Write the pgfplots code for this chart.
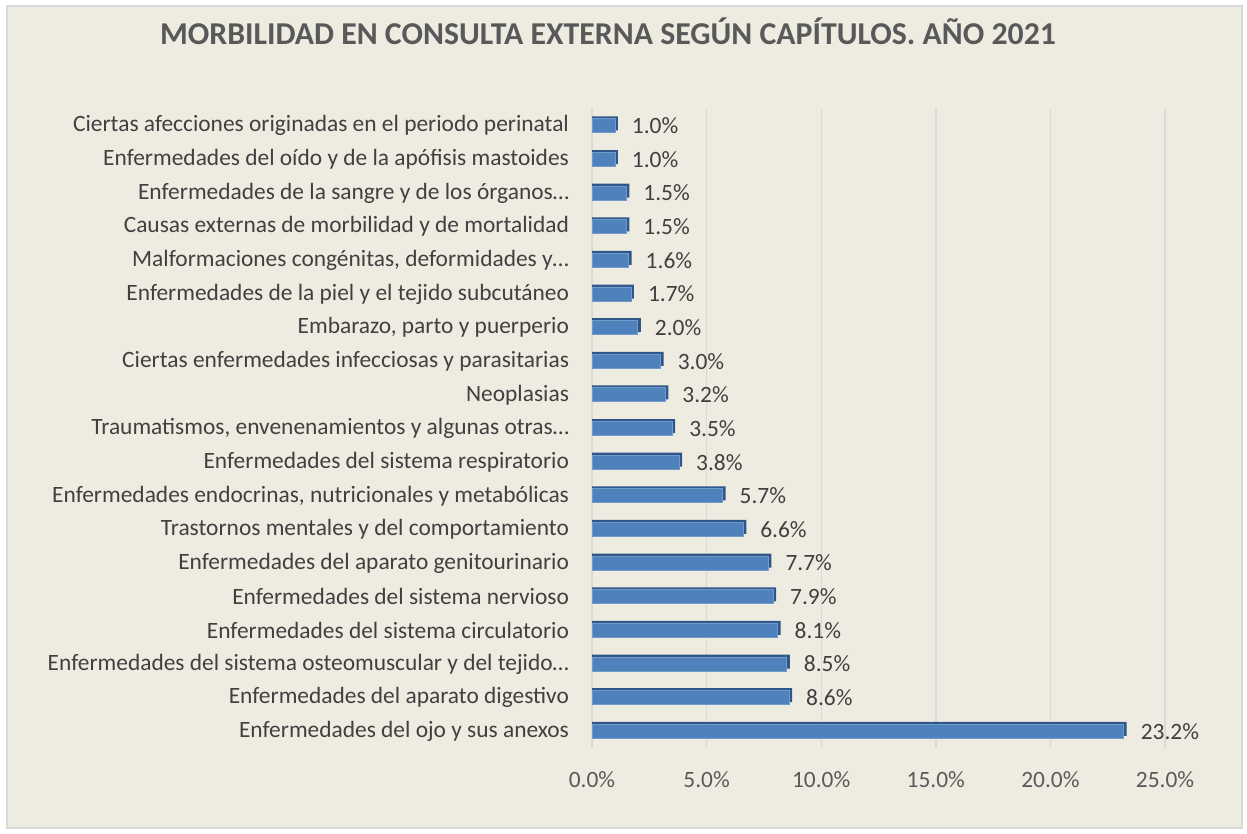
\documentclass[border=0pt]{standalone}
\usepackage{pgfplots}
\usepackage{pgfplotstable}
\pgfplotsset{compat=1.18}
\usepackage{fontspec}
\setmainfont{Carlito}
\definecolor{bgc}{HTML}{EEECE1}
\definecolor{brd}{HTML}{D9D9D9}
\definecolor{barc}{HTML}{4F81BD}
\definecolor{bard}{HTML}{2F5688}
\definecolor{txt}{HTML}{404040}
\definecolor{tit}{HTML}{595959}
\pgfplotstableread{
val idx
1.0 0
1.0 1
1.5 2
1.5 3
1.6 4
1.7 5
2.0 6
3.0 7
3.2 8
3.5 9
3.8 10
5.7 11
6.6 12
7.7 13
7.9 14
8.1 15
8.5 16
8.6 17
23.2 18
}\data
\begin{document}
\begin{tikzpicture}[x=0.5pt,y=0.5pt]
\fill[white] (0,0) rectangle (1247,834);
\filldraw[fill=bgc,draw=brd,line width=1.2pt] (7,6) rectangle (1242,828);
\node[font=\bfseries\fontsize{15.9}{18}\selectfont,text=tit] at (608,803) {MORBILIDAD EN CONSULTA EXTERNA SEGÚN CAPÍTULOS. AÑO 2021};
\begin{axis}[
  at={(296pt,43pt)}, anchor=south west,
  scale only axis, width=286.5pt, height=319.5pt,
  xmin=0, xmax=25, ymin=-0.5, ymax=18.5,
  y dir=reverse,
  axis line style={draw=none},
  xmajorgrids, grid style={brd, line width=0.7pt},
  major tick length=0pt,
  xtick={0,5,...,25},
  xticklabels={0.0\%,5.0\%,10.0\%,15.0\%,20.0\%,25.0\%},
  xticklabel style={font=\fontsize{11.7}{13}\selectfont, text=tit, yshift=-8pt},
  ytick={0,...,18},
  yticklabels={Ciertas afecciones originadas en el periodo perinatal,
    Enfermedades del oído y de la apófisis mastoides,
    Enfermedades de la sangre y de los órganos…,
    Causas externas de morbilidad y de mortalidad,
    {Malformaciones congénitas, deformidades y…},
    Enfermedades de la piel y el tejido subcutáneo,
    {Embarazo, parto y puerperio},
    Ciertas enfermedades infecciosas y parasitarias,
    Neoplasias,
    {Traumatismos, envenenamientos y algunas otras…},
    Enfermedades del sistema respiratorio,
    {Enfermedades endocrinas, nutricionales y metabólicas},
    Trastornos mentales y del comportamiento,
    Enfermedades del aparato genitourinario,
    Enfermedades del sistema nervioso,
    Enfermedades del sistema circulatorio,
    Enfermedades del sistema osteomuscular y del tejido…,
    Enfermedades del aparato digestivo,
    Enfermedades del ojo y sus anexos},
  yticklabel style={font=\fontsize{11.7}{13}\selectfont, text=txt, xshift=-8pt},
  /pgf/number format/assume math mode=true,
  xbar, bar width=7pt,
]
\addplot[xbar, bar width=7pt, bar shift=1.2pt, fill=bard, draw=none] table[x expr=\thisrow{val}+0.13, y=idx] {\data};
\addplot[xbar, bar width=7pt, bar shift=0pt, fill=barc, draw=barc!80!white, line width=0.4pt,
  nodes near coords={\pgfmathprintnumber[fixed,fixed zerofill,precision=1]{\pgfplotspointmeta}\%},
  nodes near coords style={font=\fontsize{11.7}{13}\selectfont, text=txt, anchor=west, xshift=5pt},
] table[x=val, y=idx] {\data};
\end{axis}
\end{tikzpicture}
\end{document}
